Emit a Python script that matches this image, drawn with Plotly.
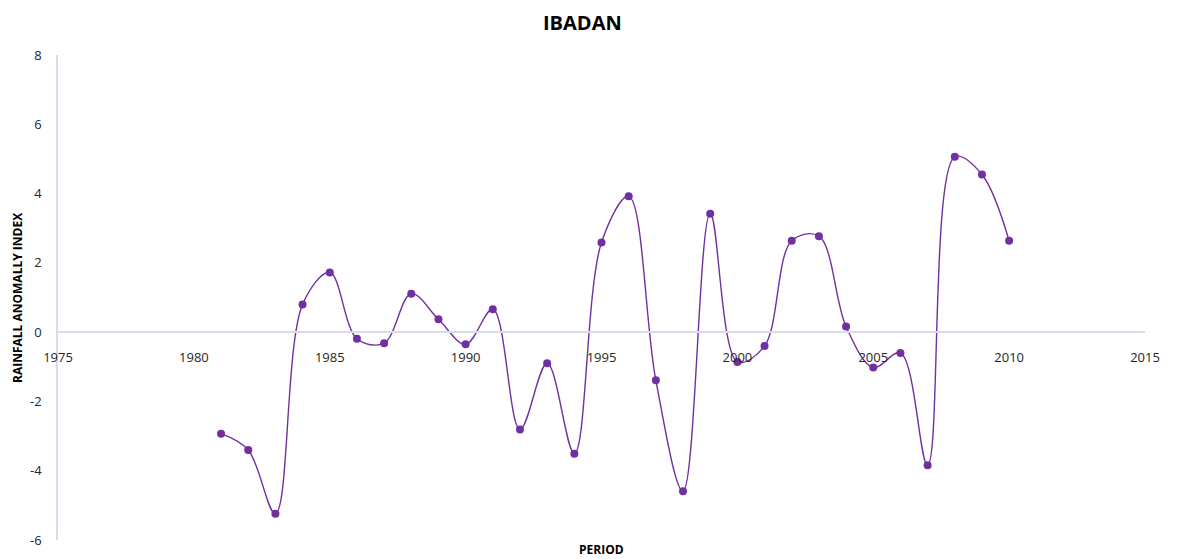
import plotly.graph_objects as go

years = list(range(1981, 2011))
rai = [-2.93, -3.40, -5.24, 0.80, 1.72, -0.19, -0.32, 1.11, 0.37, -0.35,
       0.66, -2.81, -0.90, -3.51, 2.59, 3.92, -1.39, -4.59, 3.42, -0.86,
       -0.40, 2.64, 2.77, 0.16, -1.02, -0.60, -3.84, 5.06, 4.55, 2.64]

x_ticks = [1975, 1980, 1985, 1990, 1995, 2000, 2005, 2010, 2015]
y_ticks = [-6, -4, -2, 0, 2, 4, 6, 8]

purple = "#7030A0"
axis_col = "#d9dbea"
font_fam = "Open Sans"

W, H = 1178, 559
L, R, T, B = 58, 33, 55, 19
PW, PH = W - L - R, H - T - B

fig = go.Figure()
fig.add_trace(go.Scatter(
    x=years, y=rai, mode="lines+markers",
    line=dict(color=purple, width=1.4, shape="spline", smoothing=1.0),
    marker=dict(color=purple, size=8),
    showlegend=False, hoverinfo="x+y",
))

y0, y1 = -6, 8
fig.update_layout(
    width=W, height=H,
    margin=dict(l=L, r=R, t=T, b=B, autoexpand=False),
    paper_bgcolor="white", plot_bgcolor="white",
    font=dict(family=font_fam, size=12, color="#333333"),
    xaxis=dict(
        range=[1975, 2015], tickvals=x_ticks, ticktext=[str(v) for v in x_ticks],
        showgrid=False, zeroline=False, showline=True, linecolor=axis_col, linewidth=1.5,
        anchor="free", position=(0 - y0) / (y1 - y0), ticks="", ticklabelstandoff=14,
        tickfont=dict(size=13, color="#262626"),
    ),
    yaxis=dict(
        range=[y0, y1], tickvals=y_ticks, ticktext=[str(v) for v in y_ticks],
        showgrid=False, zeroline=False, showline=True, linecolor=axis_col, linewidth=1.5,
        ticks="", ticklabelstandoff=12,
        tickfont=dict(size=13, color="#262626"),
    ),
    annotations=[
        dict(text="<b>IBADAN</b>", x=(582 - L) / PW, y=1 + (T - 22) / PH,
             xref="paper", yref="paper", xanchor="center", yanchor="middle",
             showarrow=False, font=dict(size=20, color="#000000", family=font_fam)),
        dict(text="<b>PERIOD</b>", x=(601 - L) / PW, y=-(549 - (H - B)) / PH,
             xref="paper", yref="paper", xanchor="center", yanchor="middle",
             showarrow=False, font=dict(size=12, color="#000000")),
        dict(text="<b>RAINFALL ANOMALLY INDEX</b>", x=-(L - 17) / PW, y=(H - B - 298) / PH,
             xref="paper", yref="paper", textangle=-90, xanchor="center", yanchor="middle",
             showarrow=False, font=dict(size=12, color="#000000")),
    ],
)

fig.write_html("out.html", config={"displayModeBar": False})

# remove default browser body margin so the figure sits at the page's top-left
with open("out.html", "r", encoding="utf-8") as f:
    html = f.read()
html = html.replace("<body>", '<body style="margin:0;padding:0;overflow:hidden">', 1)
with open("out.html", "w", encoding="utf-8") as f:
    f.write(html)
